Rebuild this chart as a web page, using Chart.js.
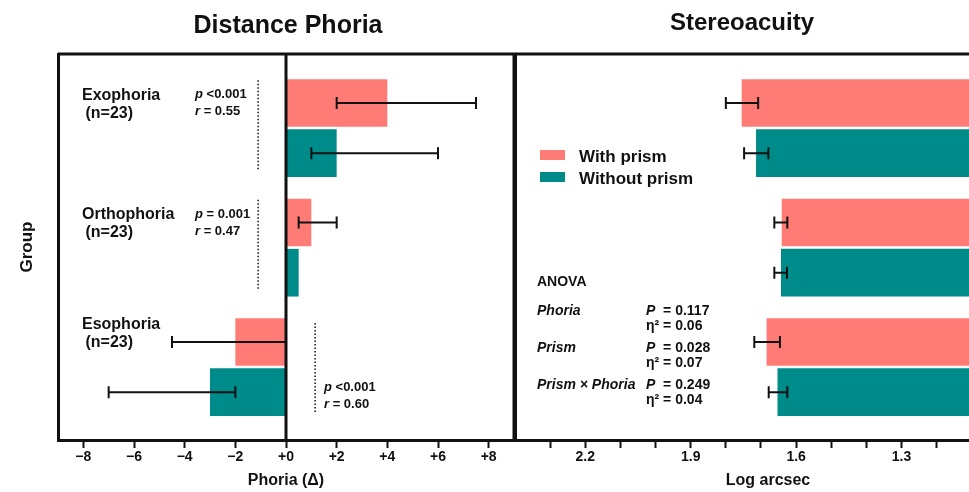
<!DOCTYPE html>
<html>
<head>
<meta charset="utf-8">
<script src="https://cdn.jsdelivr.net/npm/chart.js@4.4.0/dist/chart.umd.min.js"></script>
<style>
  html, body { margin: 0; padding: 0; background: #fff; overflow: hidden; }
  #wrap { position: relative; width: 969px; height: 492px; overflow: hidden; }
  #phoriaChart { position: absolute; left: 0; top: 0; }
  #stereoChart { position: absolute; left: 455px; top: 0; }
</style>
</head>
<body>
<div id="wrap">
  <canvas id="phoriaChart" width="516" height="492"></canvas>
  <canvas id="stereoChart" width="620" height="492"></canvas>
</div>
<script>
/* ---------- data ---------- */
const groups = ["Exophoria", "Orthophoria", "Esophoria"];
const groupN = ["(n=23)", "(n=23)", "(n=23)"];
const groupPos = [0, 1, 2];
const seriesNames = ["With prism", "Without prism"];

// distance phoria (prism dioptres), bar + error range
const phoriaWith      = [4, 1, -2];
const phoriaWithLo    = [2, 0.5, -4.5];
const phoriaWithHi    = [7.5, 2, 0];
const phoriaWithout   = [2, 0.5, -3];
const phoriaWithoutLo = [1, 0.5, -7];
const phoriaWithoutHi = [6, 0.5, -2];

// stereoacuity (log arcsec)
const stereoWith      = [1.755, 1.641, 1.684];
const stereoWithLo    = [1.708, 1.625, 1.646];
const stereoWithHi    = [1.800, 1.662, 1.719];
const stereoWithout   = [1.714, 1.643, 1.653];
const stereoWithoutLo = [1.679, 1.626, 1.625];
const stereoWithoutHi = [1.748, 1.662, 1.678];

const phoriaTicks = [-8, -6, -4, -2, 0, 2, 4, 6, 8];
const stereoTicks = [2.3, 2.2, 2.1, 2.0, 1.9, 1.8, 1.7, 1.6, 1.5, 1.4, 1.3, 1.2, 1.1, 1.0];
const stereoLabels = ["2.2", "1.9", "1.6", "1.3", "1.0"];

const phoriaP = ["<0.001", "= 0.001", "<0.001"];
const phoriaR = ["0.55", "0.47", "0.60"];

const anovaTerms = ["Phoria", "Prism", "Prism \u00d7 Phoria"];
const anovaP = ["0.117", "0.028", "0.249"];
const anovaEta = ["0.06", "0.07", "0.04"];

const RED = "#FF7C76";
const TEAL = "#008B8B";
const INK = "#111";
const FAM = "'Liberation Sans', Arial, Helvetica, sans-serif";
const SX = 455; // page offset of the right canvas

Chart.defaults.font.family = FAM;
Chart.defaults.color = INK;

/* ---------- helpers ---------- */
function txt(ctx, parts, x, y, align){
  // parts: [[text, font], ...] drawn one after another
  ctx.save();
  ctx.fillStyle = INK;
  ctx.textBaseline = "alphabetic";
  let total = 0;
  parts.forEach(p => { ctx.font = p[1]; total += ctx.measureText(p[0]).width; });
  let cx = align === "center" ? x - total / 2 : x;
  parts.forEach(p => {
    ctx.font = p[1];
    ctx.textAlign = "left";
    ctx.fillText(p[0], cx, y);
    cx += ctx.measureText(p[0]).width;
  });
  ctx.restore();
}

function drawErrors(chart, lows, highs){
  const ctx = chart.ctx, xs = chart.scales.x;
  ctx.save();
  ctx.strokeStyle = INK;
  ctx.lineWidth = 2;
  lows.forEach((lo, d) => {
    chart.getDatasetMeta(d).data.forEach((bar, i) => {
      const a = xs.getPixelForValue(lo[i]);
      const b = xs.getPixelForValue(highs[d][i]);
      if (Math.abs(a - b) < 1) return;
      const y = bar.y;
      ctx.beginPath();
      ctx.moveTo(a, y); ctx.lineTo(b, y);
      ctx.moveTo(a, y - 6); ctx.lineTo(a, y + 6);
      ctx.moveTo(b, y - 6); ctx.lineTo(b, y + 6);
      ctx.stroke();
    });
  });
  ctx.restore();
}

function dotted(ctx, x, y1, y2){
  ctx.save();
  ctx.strokeStyle = INK;
  ctx.lineWidth = 1.5;
  ctx.setLineDash([1.5, 2]);
  ctx.beginPath();
  ctx.moveTo(x, y1); ctx.lineTo(x, y2);
  ctx.stroke();
  ctx.restore();
}

function barData(vals){
  return groupPos.map((g, i) => ({ x: vals[i], y: g }));
}

/* ---------- left panel decorations ---------- */
const phoriaDeco = {
  id: "phoriaDeco",
  afterDatasetsDraw(chart){
    const ctx = chart.ctx, a = chart.chartArea;
    const xs = chart.scales.x, ys = chart.scales.y;

    // frame + zero line
    ctx.save();
    ctx.strokeStyle = INK;
    ctx.lineWidth = 3;
    ctx.beginPath();
    ctx.moveTo(a.left, a.top); ctx.lineTo(a.right, a.top); ctx.lineTo(a.right, a.bottom);
    const x0 = xs.getPixelForValue(0);
    ctx.moveTo(x0, a.top); ctx.lineTo(x0, a.bottom);
    ctx.stroke();
    ctx.restore();

    drawErrors(chart, [phoriaWithLo, phoriaWithoutLo], [phoriaWithHi, phoriaWithoutHi]);

    // dotted markers
    dotted(ctx, xs.getPixelForValue(-1.1), ys.getPixelForValue(-0.40), ys.getPixelForValue(0.35));
    dotted(ctx, xs.getPixelForValue(-1.1), ys.getPixelForValue(0.60), ys.getPixelForValue(1.36));
    dotted(ctx, xs.getPixelForValue(1.15), ys.getPixelForValue(1.63), ys.getPixelForValue(2.38));

    const gF = "bold 16px " + FAM;
    const sF = "bold 13px " + FAM;
    const iF = "italic bold 13px " + FAM;
    const gy = [100, 219, 329];
    groups.forEach((g, i) => {
      txt(ctx, [[g, gF]], 82, gy[i]);
      txt(ctx, [[" " + groupN[i], gF]], 81, gy[i] + 18);
    });
    const px = [195, 195, 324];
    const py = [98, 218, 391];
    phoriaP.forEach((p, i) => {
      txt(ctx, [["p", iF], [" " + p, sF]], px[i], py[i]);
      txt(ctx, [["r", iF], [" = " + phoriaR[i], sF]], px[i], py[i] + 17);
    });

    txt(ctx, [["Distance Phoria", "bold 25px " + FAM]], 288, 33, "center");
  }
};

/* ---------- right panel decorations ---------- */
const stereoDeco = {
  id: "stereoDeco",
  afterDatasetsDraw(chart){
    const ctx = chart.ctx, a = chart.chartArea;

    ctx.save();
    ctx.strokeStyle = INK;
    ctx.lineWidth = 3;
    ctx.beginPath();
    ctx.moveTo(a.left, a.top); ctx.lineTo(a.right + 60, a.top);
    ctx.stroke();
    ctx.restore();

    drawErrors(chart, [stereoWithLo, stereoWithoutLo], [stereoWithHi, stereoWithoutHi]);

    // legend
    const lF = "bold 17px " + FAM;
    chart.data.datasets.forEach((ds, i) => {
      ctx.fillStyle = ds.backgroundColor;
      ctx.fillRect(540 - SX, 150 + i * 22, 25, 10);
      txt(ctx, [[ds.label, lF]], 579 - SX, 162 + i * 22);
    });

    // ANOVA block
    const bF = "bold 14px " + FAM;
    const biF = "italic bold 14px " + FAM;
    txt(ctx, [["ANOVA", bF]], 537 - SX, 286);
    const ay = [315, 352, 389];
    anovaTerms.forEach((t, i) => {
      txt(ctx, [[t, biF]], 537 - SX, ay[i]);
      txt(ctx, [["P", biF], ["  = " + anovaP[i], bF]], 646 - SX, ay[i]);
      txt(ctx, [["\u03b7\u00b2 = " + anovaEta[i], bF]], 646 - SX, ay[i] + 15);
    });

    txt(ctx, [["Stereoacuity", "bold 24px " + FAM]], 742 - SX, 30, "center");
  }
};

/* ---------- shared axis pieces ---------- */
const tickFont = { size: 14, weight: "bold" };
const titleFont = { size: 16, weight: "bold" };

const groupAxis = {
  type: "linear", reverse: true, offset: false, min: -0.62, max: 2.61,
  afterBuildTicks: s => { s.ticks = groupPos.map(v => ({ value: v })); },
  ticks: { display: false },
  grid: { display: false, offset: false },
  border: { color: INK, width: 3 }
};

/* ---------- left chart ---------- */
new Chart(document.getElementById("phoriaChart").getContext("2d"), {
  type: "bar",
  data: {
    datasets: [
      { label: seriesNames[0], data: barData(phoriaWith), backgroundColor: RED },
      { label: seriesNames[1], data: barData(phoriaWithout), backgroundColor: TEAL }
    ]
  },
  options: {
    indexAxis: "y",
    responsive: false,
    animation: false,
    categoryPercentage: 0.84,
    barPercentage: 0.95,
    layout: { padding: { top: 54, right: 2, left: 0, bottom: 0 } },
    plugins: { legend: { display: false }, tooltip: { enabled: false } },
    scales: {
      x: {
        type: "linear", min: -9, max: 9,
        afterBuildTicks: s => { s.ticks = phoriaTicks.map(v => ({ value: v })); },
        afterFit: s => { s.height = 52; },
        ticks: {
          autoSkip: false, maxRotation: 0, padding: 1, color: INK, font: tickFont,
          callback: v => v < 0 ? "\u2212" + Math.abs(v) : "+" + v
        },
        grid: { drawOnChartArea: false, tickLength: 8, tickWidth: 2, tickColor: INK, color: INK },
        border: { color: INK, width: 3 },
        title: { display: true, text: "Phoria (\u0394)", color: INK, font: titleFont, padding: { top: 0, bottom: 2 } }
      },
      y: Object.assign({}, groupAxis, {
        afterFit: s => { s.width = 58; },
        title: { display: true, text: "Group", color: INK, font: { size: 17, weight: "bold" }, padding: { top: 17, bottom: 0 } }
      })
    }
  },
  plugins: [phoriaDeco]
});

/* ---------- right chart ---------- */
new Chart(document.getElementById("stereoChart").getContext("2d"), {
  type: "bar",
  data: {
    datasets: [
      { label: seriesNames[0], data: barData(stereoWith), backgroundColor: RED },
      { label: seriesNames[1], data: barData(stereoWithout), backgroundColor: TEAL }
    ]
  },
  options: {
    indexAxis: "y",
    responsive: false,
    animation: false,
    categoryPercentage: 0.84,
    barPercentage: 0.95,
    layout: { padding: { top: 54, right: 54, left: 0, bottom: 0 } },
    plugins: { legend: { display: false }, tooltip: { enabled: false } },
    scales: {
      x: {
        type: "linear", min: 0.96, max: 2.4, reverse: true,
        afterBuildTicks: s => { s.ticks = stereoTicks.map(v => ({ value: v })); },
        afterFit: s => { s.height = 52; },
        ticks: {
          autoSkip: false, maxRotation: 0, padding: 1, color: INK, font: tickFont,
          callback: v => { const t = Number(v).toFixed(1); return stereoLabels.includes(t) ? t : ""; }
        },
        grid: { drawOnChartArea: false, tickLength: 8, tickWidth: 2, tickColor: INK, color: INK },
        border: { color: INK, width: 3 },
        title: { display: true, text: "Log arcsec", color: INK, font: titleFont, padding: { top: 0, bottom: 2 } }
      },
      y: Object.assign({}, groupAxis, {
        afterFit: s => { s.width = 60; }
      })
    }
  },
  plugins: [stereoDeco]
});
</script>
</body>
</html>
